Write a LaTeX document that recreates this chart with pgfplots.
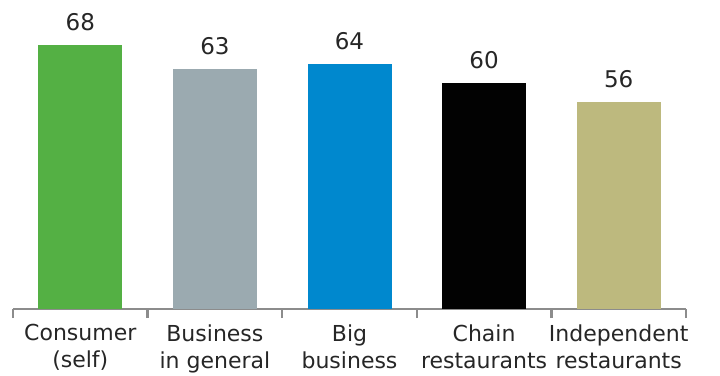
\documentclass[border=0pt]{standalone}
\usepackage{pgfplots}
\pgfplotsset{compat=1.18}
\usepackage{fontspec}
\setmainfont{DejaVu Sans}
\definecolor{cgreen}{RGB}{84,176,68}
\definecolor{cgray}{RGB}{155,170,176}
\definecolor{cblue}{RGB}{0,136,206}
\definecolor{cblack}{RGB}{2,2,2}
\definecolor{ckhaki}{RGB}{189,185,126}
\definecolor{axgray}{RGB}{140,140,140}
\definecolor{txt}{RGB}{38,38,38}
\begin{document}
\begin{tikzpicture}
\path[use as bounding box] (-13pt,-66pt) rectangle (707pt,309pt);
\begin{axis}[
  at={(0,0)}, anchor=south west,
  scale only axis,
  width=673pt, height=297.4pt,
  xmin=-0.5, xmax=4.5,
  ymin=12.4, ymax=75,
  ybar, bar width=84pt, bar shift=0pt,
  axis x line*=bottom,
  axis y line=none,
  axis line style={axgray, line width=2.5pt, -},
  xtick={0,1,2,3,4},
  xticklabels={{Consumer\\(self)},{Business\\in general},{Big\\business},{Chain\\restaurants},{Independent\\restaurants}},
  major tick length=0pt,
  xticklabel style={align=center, text=txt, font=\fontsize{22}{27}\selectfont, yshift=-12pt},
  extra x ticks={-0.5,0.5,1.5,2.5,3.5,4.5},
  extra x tick labels={},
  extra x tick style={tick align=outside, major tick length=9pt, tick style={axgray, line width=2.5pt}},
  nodes near coords={\fontsize{23}{27}\selectfont\pgfmathprintnumber[assume math mode=true]{\pgfplotspointmeta}},
  nodes near coords style={text=txt, inner sep=0pt, yshift=14pt, anchor=south},
]
\addplot[fill=cgreen, draw=none] coordinates {(0,68)};
\addplot[fill=cgray, draw=none] coordinates {(1,63)};
\addplot[fill=cblue, draw=none] coordinates {(2,64)};
\addplot[fill=cblack, draw=none] coordinates {(3,60)};
\addplot[fill=ckhaki, draw=none] coordinates {(4,56)};
\end{axis}
\end{tikzpicture}
\end{document}
